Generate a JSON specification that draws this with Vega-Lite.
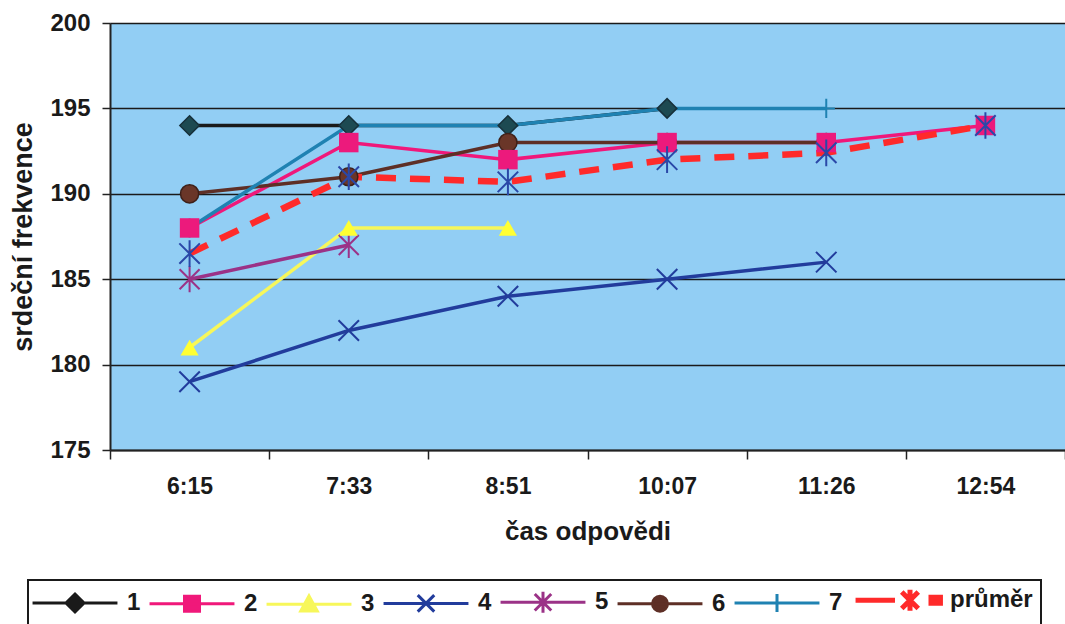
{
  "$schema": "https://vega.github.io/schema/vega-lite/v6.json",
  "autosize": "none",
  "width": 955,
  "height": 427,
  "padding": {"left": 110, "top": 23, "right": 0, "bottom": 174},
  "background": "white",
  "config": {
    "view": {"fill": "#92cef4", "stroke": null},
    "font": "Liberation Sans"
  },
  "data": {
    "values": [
      {"t": "6:15", "s": "1", "v": 194}, {"t": "7:33", "s": "1", "v": 194}, {"t": "8:51", "s": "1", "v": 194}, {"t": "10:07", "s": "1", "v": 195},
      {"t": "6:15", "s": "2", "v": 188}, {"t": "7:33", "s": "2", "v": 193}, {"t": "8:51", "s": "2", "v": 192}, {"t": "10:07", "s": "2", "v": 193}, {"t": "11:26", "s": "2", "v": 193}, {"t": "12:54", "s": "2", "v": 194},
      {"t": "6:15", "s": "3", "v": 181}, {"t": "7:33", "s": "3", "v": 188}, {"t": "8:51", "s": "3", "v": 188},
      {"t": "6:15", "s": "4", "v": 179}, {"t": "7:33", "s": "4", "v": 182}, {"t": "8:51", "s": "4", "v": 184}, {"t": "10:07", "s": "4", "v": 185}, {"t": "11:26", "s": "4", "v": 186},
      {"t": "6:15", "s": "5", "v": 185}, {"t": "7:33", "s": "5", "v": 187},
      {"t": "6:15", "s": "6", "v": 190}, {"t": "7:33", "s": "6", "v": 191}, {"t": "8:51", "s": "6", "v": 193}, {"t": "10:07", "s": "6", "v": 193}, {"t": "11:26", "s": "6", "v": 193},
      {"t": "6:15", "s": "7", "v": 188}, {"t": "7:33", "s": "7", "v": 194}, {"t": "8:51", "s": "7", "v": 194}, {"t": "10:07", "s": "7", "v": 195}, {"t": "11:26", "s": "7", "v": 195},
      {"t": "6:15", "s": "průměr", "v": 186.5}, {"t": "7:33", "s": "průměr", "v": 191}, {"t": "8:51", "s": "průměr", "v": 190.7}, {"t": "10:07", "s": "průměr", "v": 192}, {"t": "11:26", "s": "průměr", "v": 192.4}, {"t": "12:54", "s": "průměr", "v": 194}
    ]
  },
  "encoding": {
    "x": {
      "field": "t", "type": "ordinal", "bandPosition": 0.5,
      "sort": ["6:15", "7:33", "8:51", "10:07", "11:26", "12:54"],
      "scale": {"type": "band", "paddingInner": 0, "paddingOuter": 0},
      "axis": {
        "title": "čas odpovědi", "titleFontSize": 26, "titleFontWeight": "bold", "titleColor": "#1a1a1a", "titlePadding": 20,
        "labelFontSize": 23, "labelFontWeight": "bold", "labelColor": "#1a1a1a", "labelAngle": 0, "labelPadding": 16,
        "tickBand": "extent", "tickSize": 9, "tickColor": "#222", "tickWidth": 1.5,
        "domainColor": "#222", "domainWidth": 2, "grid": false
      }
    },
    "y": {
      "field": "v", "type": "quantitative",
      "scale": {"domain": [175, 200], "nice": false, "zero": false},
      "axis": {
        "title": "srdeční frekvence", "titleFontSize": 27, "titleFontWeight": "bold", "titleColor": "#1a1a1a", "titlePadding": 12,
        "values": [175, 180, 185, 190, 195, 200],
        "labelFontSize": 24, "labelFontWeight": "bold", "labelColor": "#1a1a1a", "labelPadding": 12,
        "tickSize": 8, "tickColor": "#222", "tickWidth": 1.5,
        "domainColor": "#222", "domainWidth": 2,
        "grid": true, "gridColor": "#1a1a1a", "gridWidth": 1.6
      }
    },
    "color": {
      "field": "s", "type": "nominal",
      "scale": {
        "domain": ["1", "2", "3", "4", "5", "6", "7", "průměr"],
        "range": ["#1a1a1a", "#f0187a", "#f7f75a", "#223c9c", "#9b3287", "#5e2f26", "#1f82b2", "#ff2a2a"]
      },
      "legend": {
        "orient": "none", "legendX": -82, "legendY": 557, "direction": "horizontal", "columns": 8,
        "title": null, "fillColor": "white", "strokeColor": "#1a1a1a", "padding": 8,
        "symbolType": "M-2.83,0L2.83,0",
        "symbolSize": 900, "symbolStrokeWidth": 3, "symbolOffset": 27, "labelOffset": 40, "columnPadding": 2,
        "labelFontSize": 24, "labelFontWeight": "bold", "labelColor": "#1a1a1a", "labelLimit": 200,
        "encode": {
          "legend": {"update": {"strokeWidth": {"value": 2}}},
          "symbols": {
            "update": {
              "shape": {"signal": "datum.value === '1' ? 'M-2.83,0L2.83,0M0,-0.6L0.6,0L0,0.6L-0.6,0Z' : datum.value === '2' ? 'M-2.83,0L2.83,0M-0.5,-0.5L0.5,-0.5L0.5,0.5L-0.5,0.5Z' : datum.value === '3' ? 'M-2.83,0L2.83,0M0,-0.55L0.55,0.45L-0.55,0.45Z' : datum.value === '4' ? 'M-2.83,0L2.83,0M-0.55,-0.55L0.55,0.55M0.55,-0.55L-0.55,0.55' : datum.value === '5' ? 'M-2.83,0L2.83,0M-0.55,-0.55L0.55,0.55M0.55,-0.55L-0.55,0.55M0,-0.7L0,0.7' : datum.value === '6' ? 'M-2.83,0L2.83,0M0.5,0A0.5,0.5,0,1,1,-0.5,0A0.5,0.5,0,1,1,0.5,0' : datum.value === '7' ? 'M-2.83,0L2.83,0M0,-0.6L0,0.6' : 'M-2.83,0L-0.2,0M0.25,-0.55L1.35,0.55M1.35,-0.55L0.25,0.55M0.8,-0.7L0.8,0.7M2.2,-0.2L2.83,-0.2L2.83,0.2L2.2,0.2Z'"},
              "fill": {"signal": "scale('color', datum.value)"},
              "stroke": {"signal": "scale('color', datum.value)"},
              "strokeWidth": {"signal": "datum.value === 'průměr' ? 5 : 3"},
              "opacity": {"value": 1}
            }
          }
        }
      }
    }
  },
  "layer": [
    {
      "transform": [{"filter": "datum.s !== 'průměr'"}],
      "mark": {"type": "line", "strokeWidth": 3.5, "strokeCap": "butt"}
    },
    {
      "transform": [{"filter": "datum.s === 'průměr'"}],
      "mark": {"type": "line", "strokeWidth": 6.5, "strokeDash": [20, 14], "strokeCap": "butt"}
    },
    {
      "transform": [{"filter": "datum.s === '7'"}],
      "mark": {"type": "point", "shape": "M-1,0L1,0M0,-1.1L0,1.1", "size": 300, "filled": false, "stroke": "#1f82b2", "strokeWidth": 2, "opacity": 1},
      "encoding": {"color": {"value": "#1f82b2"}}
    },
    {
      "transform": [{"filter": "datum.s === '5'"}],
      "mark": {"type": "point", "shape": "M-1,-1L1,1M1,-1L-1,1M0,-1.3L0,1.3", "size": 400, "filled": false, "strokeWidth": 2, "opacity": 1},
      "encoding": {"color": {"value": "#9b3287"}}
    },
    {
      "transform": [{"filter": "datum.s === '4'"}],
      "mark": {"type": "point", "shape": "M-1,-1L1,1M1,-1L-1,1", "size": 420, "filled": false, "strokeWidth": 2, "opacity": 1},
      "encoding": {"color": {"value": "#223c9c"}}
    },
    {
      "transform": [{"filter": "datum.s === '3'"}],
      "mark": {"type": "point", "shape": "triangle-up", "size": 330, "filled": true, "opacity": 1},
      "encoding": {"color": {"value": "#ffff33"}}
    },
    {
      "transform": [{"filter": "datum.s === '1'"}],
      "mark": {"type": "point", "shape": "diamond", "size": 380, "filled": true, "stroke": "#17303a", "strokeWidth": 1.5, "opacity": 1},
      "encoding": {"color": {"value": "#1d4a52"}}
    },
    {
      "transform": [{"filter": "datum.s === '6'"}],
      "mark": {"type": "point", "shape": "circle", "size": 330, "filled": true, "stroke": "#3e2018", "strokeWidth": 1.5, "opacity": 1},
      "encoding": {"color": {"value": "#6a3628"}}
    },
    {
      "transform": [{"filter": "datum.s === '2'"}],
      "mark": {"type": "point", "shape": "square", "size": 380, "filled": true, "opacity": 1},
      "encoding": {"color": {"value": "#ec1a7c"}}
    },
    {
      "transform": [{"filter": "datum.s === 'průměr'"}],
      "mark": {"type": "point", "shape": "M-1,-1L1,1M1,-1L-1,1M0,-1.3L0,1.3", "size": 420, "filled": false, "strokeWidth": 2, "opacity": 1},
      "encoding": {"color": {"value": "#2a48a8"}}
    }
  ]
}
